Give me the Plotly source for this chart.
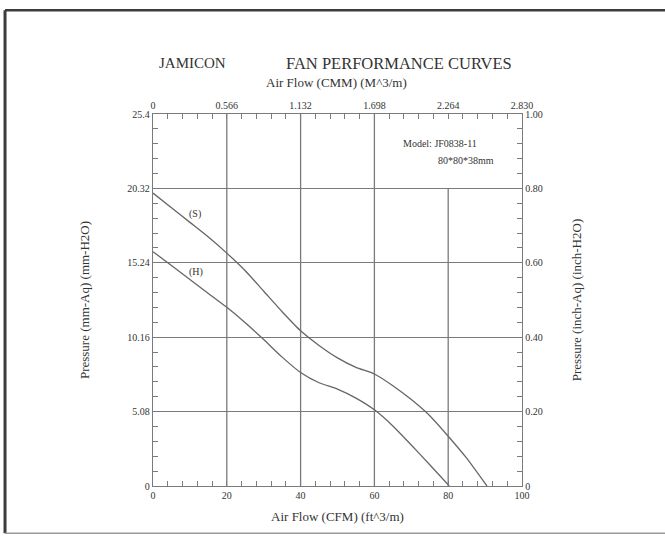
import plotly.graph_objects as go

# ---- data ----
cfm_s = [0, 5, 10, 15, 20, 25, 30, 35, 40, 45, 50, 55, 60, 65, 70, 75, 80, 85, 90.5]
mm_s = [20.0, 19.0, 18.0, 17.0, 15.9, 14.7, 13.3, 11.9, 10.6, 9.6, 8.75, 8.1, 7.65, 6.85, 5.9, 4.8, 3.4, 1.9, 0]

cfm_h = [0, 5, 10, 15, 20, 25, 30, 35, 40, 45, 50, 55, 60, 65, 70, 75, 80.3]
mm_h = [16.0, 15.05, 14.1, 13.15, 12.2, 11.15, 10.0, 8.8, 7.75, 7.05, 6.62, 6.0, 5.2, 4.1, 2.8, 1.45, 0]

x_cfm_ticks = [0, 20, 40, 60, 80, 100]
x_cfm_labels = ["0", "20", "40", "60", "80", "100"]
x_cmm_ticks = [0, 0.566, 1.132, 1.698, 2.264, 2.830]
x_cmm_labels = ["0", "0.566", "1.132", "1.698", "2.264", "2.830"]
y_mm_ticks = [0, 5.08, 10.16, 15.24, 20.32, 25.4]
y_mm_labels = ["0", "5.08", "10.16", "15.24", "20.32", "25.4"]
y_in_ticks = [0, 0.2, 0.4, 0.6, 0.8, 1.0]
y_in_labels = ["0", "0.20", "0.40", "0.60", "0.80", "1.00"]

vgrid_full = [20, 40, 60]
vgrid_partial = [80]
vgrid_partial_top = 20.32

curve_labels = ["(S)", "(H)"]
label_x = [11.4, 11.7]
label_y = [18.55, 14.6]

FONT = "Liberation Serif, Times New Roman, serif"
TXT = "#333333"
GRID = "#7a7a7a"
CURVE = "#666666"


def minor_vals(major, n):
    out = []
    for a, b in zip(major[:-1], major[1:]):
        step = (b - a) / n
        out += [a + step * i for i in range(1, n)]
    return out


fig = go.Figure()
fig.add_trace(go.Scatter(x=cfm_s, y=mm_s, mode="lines", line=dict(color=CURVE, width=1.3, shape="spline", smoothing=0.6),
                         showlegend=False, name="S"))
fig.add_trace(go.Scatter(x=cfm_h, y=mm_h, mode="lines", line=dict(color=CURVE, width=1.3, shape="spline", smoothing=0.6),
                         showlegend=False, name="H"))
# invisible trace so the secondary axes are drawn
fig.add_trace(go.Scatter(x=[x_cmm_ticks[0], x_cmm_ticks[-1]], y=[y_in_ticks[0], y_in_ticks[-1]],
                         xaxis="x2", yaxis="y2", mode="markers", marker=dict(opacity=0),
                         hoverinfo="skip", showlegend=False))

tickfont = dict(family=FONT, size=10, color=TXT)
axis_common = dict(showline=True, linecolor=GRID, linewidth=1.3, ticks="inside", ticklen=5,
                   tickcolor=GRID, tickwidth=1, tickfont=tickfont, zeroline=False, tickmode="array")

fig.update_layout(
    width=665, height=536,
    margin=dict(l=153, r=143, t=114, b=50),
    paper_bgcolor="white", plot_bgcolor="white",
    xaxis=dict(range=[0, 100], tickvals=x_cfm_ticks, ticktext=x_cfm_labels, showgrid=False,
               minor=dict(tickmode="array", tickvals=minor_vals(x_cfm_ticks, 5), ticks="inside", ticklen=5, tickcolor=GRID),
               title=dict(text="Air Flow (CFM) (ft^3/m)", font=dict(family=FONT, size=13, color=TXT), standoff=11),
               **axis_common),
    xaxis2=dict(range=[0, 2.830], tickvals=x_cmm_ticks, ticktext=x_cmm_labels, overlaying="x", side="top",
                anchor="y", showgrid=False,
                minor=dict(tickmode="array", tickvals=minor_vals(x_cmm_ticks, 5), ticks="inside", ticklen=5, tickcolor=GRID),
                **axis_common),
    yaxis=dict(range=[0, 25.4], tickvals=y_mm_ticks, ticktext=y_mm_labels, showgrid=True, gridcolor=GRID, gridwidth=1.3,
               minor=dict(tickmode="array", tickvals=minor_vals(y_mm_ticks, 5), ticks="inside", ticklen=5, tickcolor=GRID),
               title=dict(text="Pressure (mm-Aq) (mm-H2O)", font=dict(family=FONT, size=13, color=TXT), standoff=34),
               **axis_common),
    yaxis2=dict(range=[0, 1.0], tickvals=y_in_ticks, ticktext=y_in_labels, overlaying="y", side="right", anchor="x",
                showgrid=False,
                minor=dict(tickmode="array", tickvals=minor_vals(y_in_ticks, 5), ticks="inside", ticklen=5, tickcolor=GRID),
                title=dict(text="Pressure (inch-Aq) (inch-H2O)", font=dict(family=FONT, size=13, color=TXT), standoff=30),
                **axis_common),
)

# vertical grid lines
for v in vgrid_full:
    fig.add_shape(type="line", xref="x", yref="y", x0=v, x1=v, y0=y_mm_ticks[0], y1=y_mm_ticks[-1],
                  line=dict(color=GRID, width=1.3), layer="below")
for v in vgrid_partial:
    fig.add_shape(type="line", xref="x", yref="y", x0=v, x1=v, y0=y_mm_ticks[0], y1=vgrid_partial_top,
                  line=dict(color=GRID, width=1.3), layer="below")

# outer frame: dark top/left, light bottom
fig.add_shape(type="line", xref="paper", yref="paper", x0=-0.401, x1=1.42, y0=1.279, y1=1.279,
              line=dict(color="#3c3c3c", width=2.5))
fig.add_shape(type="line", xref="paper", yref="paper", x0=-0.401, x1=-0.401, y0=-0.127, y1=1.279,
              line=dict(color="#3c3c3c", width=3))
fig.add_shape(type="line", xref="paper", yref="paper", x0=-0.401, x1=1.42, y0=-0.127, y1=-0.127,
              line=dict(color="#9a9a9a", width=1.5))

# curve labels
for t, lx, ly in zip(curve_labels, label_x, label_y):
    fig.add_annotation(x=lx, y=ly, xref="x", yref="y", text=t, showarrow=False,
                       xanchor="center", yanchor="middle",
                       font=dict(family=FONT, size=10, color=TXT))

# titles and model info
fig.add_annotation(x=0.108, y=1.137, xref="paper", yref="paper", text="JAMICON", showarrow=False,
                   xanchor="center", yanchor="middle", font=dict(family=FONT, size=15, color=TXT))
fig.add_annotation(x=0.667, y=1.137, xref="paper", yref="paper", text="FAN PERFORMANCE CURVES", showarrow=False,
                   xanchor="center", yanchor="middle", font=dict(family=FONT, size=16.5, color=TXT))
fig.add_annotation(x=0.497, y=1.086, xref="paper", yref="paper", text="Air Flow (CMM) (M^3/m)", showarrow=False,
                   xanchor="center", yanchor="middle", font=dict(family=FONT, size=13, color=TXT))
fig.add_annotation(x=0.673, y=0.921, xref="paper", yref="paper", text="Model: JF0838-11", showarrow=False,
                   xanchor="left", yanchor="middle", font=dict(family=FONT, size=10, color=TXT))
fig.add_annotation(x=0.767, y=0.876, xref="paper", yref="paper", text="80*80*38mm", showarrow=False,
                   xanchor="left", yanchor="middle", font=dict(family=FONT, size=10, color=TXT))

fig.write_html("out.html", config={"displayModeBar": False},
               post_script="document.body.style.margin='0';")
